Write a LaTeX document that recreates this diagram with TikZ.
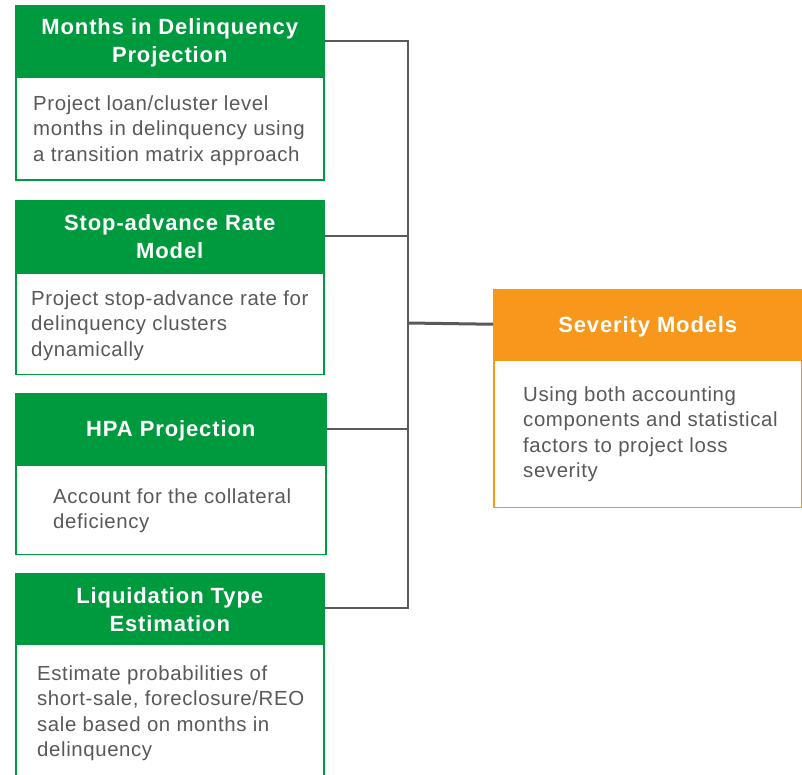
\documentclass[tikz,border=0pt]{standalone}
\usepackage{fontspec}
\setmainfont{Liberation Sans}
\newfontfamily\hdfont[LetterSpace=4]{Liberation Sans}
\newfontfamily\bdfont[LetterSpace=3]{Liberation Sans}
\definecolor{grn}{HTML}{009A3E}
\definecolor{org}{HTML}{F7981D}
\definecolor{txt}{HTML}{595959}
\definecolor{ln}{HTML}{595959}
\tikzset{
  hdbox/.style={fill=#1, draw=#1, line width=1.5pt, inner sep=0pt, anchor=north west},
  hd/.style={text=white, align=center, inner sep=0pt, font=\hdfont\bfseries\fontsize{22}{28}\selectfont},
  bdbox/.style={draw=#1, fill=white, line width=1.5pt, inner sep=0pt, anchor=north},
  bd/.style={font=\bdfont\fontsize{20.4}{25.5}\selectfont, text=txt, align=left,
    anchor=north west, inner sep=0pt},
  conn/.style={draw=ln, line width=2pt}
}
\begin{document}
\begin{tikzpicture}[x=1pt,y=-1pt]
\useasboundingbox (0,0) rectangle (802,775);
% box 1
\node[hdbox=grn, minimum width=308pt, minimum height=70pt] (h1) at (15,5) {};
\node[bdbox=grn, minimum width=308pt, minimum height=103pt] (b1) at (h1.south) {};
\node[hd] (l1) at ([yshift=-2.5pt]h1.center) {Months in Delinquency\\Projection};
\node[bd] (t1) at (33,92) {\strut Project loan/cluster level\\months in delinquency using\\a transition matrix approach};
% box 2
\node[hdbox=grn, minimum width=308pt, minimum height=71pt] (h2) at (15,200) {};
\node[bdbox=grn, minimum width=308pt, minimum height=101pt] (b2) at (h2.south) {};
\node[hd] (l2) at ([yshift=-0.5pt]h2.center) {Stop-advance Rate\\Model};
\node[bd] (t2) at (31,287) {\strut Project stop-advance rate for\\delinquency clusters\\dynamically};
% box 3
\node[hdbox=grn, minimum width=310pt, minimum height=70pt] (h3) at (15,393) {};
\node[bdbox=grn, minimum width=310pt, minimum height=89pt] (b3) at (h3.south) {};
\node[hd] (l3) at ([yshift=-2.5pt]h3.center) {HPA Projection};
\node[bd] (t3) at (53,485) {\strut Account for the collateral\\deficiency};
% box 4
\node[hdbox=grn, minimum width=308pt, minimum height=69pt] (h4) at (15,573) {};
\node[bdbox=grn, minimum width=308pt, minimum height=160pt] (b4) at (h4.south) {};
\node[hd] (l4) at ([yshift=-1.5pt]h4.center) {Liquidation Type\\Estimation};
\node[bd] (t4) at (37,662) {\strut Estimate probabilities of\\short-sale, foreclosure/REO\\sale based on months in\\delinquency};
% severity box
\node[hdbox=org, minimum width=308pt, minimum height=69pt] (h5) at (493,289) {};
\node[bdbox=org, minimum width=308pt, minimum height=147pt] (b5) at (h5.south) {};
\node[hd] (l5) at ([yshift=-2.5pt]h5.center) {Severity Models};
\node[bd] (t5) at (523,383) {\strut Using both accounting\\components and statistical\\factors to project loss\\severity};
% connectors
\coordinate (j) at (408,323);
\draw[conn] (h1.east) -| (j);
\draw[conn] (h2.east) -| (j);
\draw[conn] (h3.east) -| (j);
\draw[conn] (h4.east) -| (j);
\draw[conn, line width=3pt] (j) -- (h5.west);
\end{tikzpicture}
\end{document}
